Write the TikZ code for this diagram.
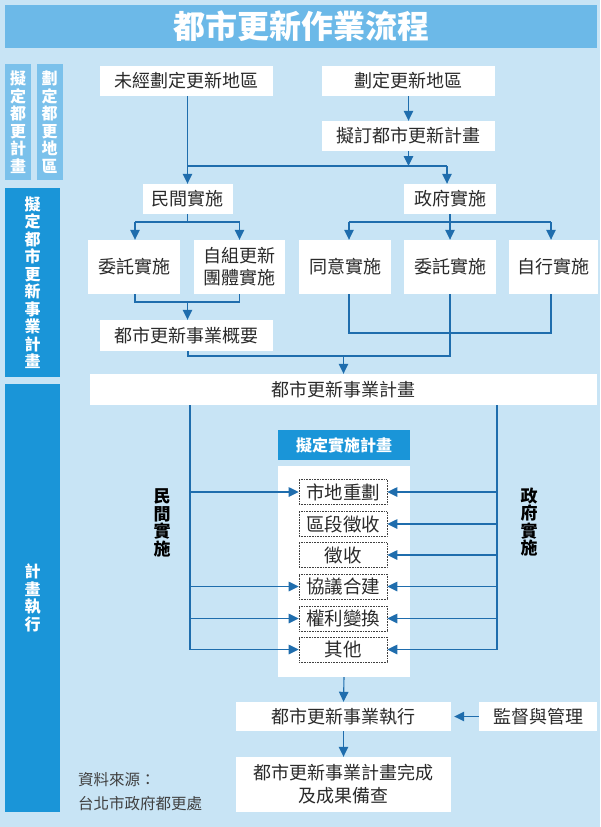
\documentclass[tikz,border=0pt]{standalone}
\usepackage{fontspec}
\setmainfont{Noto Sans CJK TC}
\usetikzlibrary{arrows.meta}
\definecolor{bg}{HTML}{C8E4F5}
\definecolor{titlec}{HTML}{6CB9E8}
\definecolor{lab}{HTML}{7BC1EB}
\definecolor{dk}{HTML}{1A95D8}
\definecolor{lc}{HTML}{1F6DAD}
\definecolor{txt}{HTML}{2A2A2A}
\tikzset{
  wbox/.style={fill=white, inner sep=0pt, text=txt, align=center, font=\fontsize{18}{22}\selectfont},
  dbox/.style={draw=black!75, dash pattern=on 0.8pt off 0.8pt, line width=0.6pt, inner sep=0pt, text=txt,
     minimum width=88pt, minimum height=25pt, font=\fontsize{18.5}{22}\selectfont},
  vlab/.style={inner sep=0pt, align=center, text=white, font=\bfseries\fontsize{16}{17.5}\selectfont},
  conn/.style={draw=lc, line width=1.1pt},
  arr/.style={conn, -{Triangle[length=10pt,width=9.5pt]}},
}
\begin{document}
\begin{tikzpicture}[x=1pt,y=-1pt]
\path[fill=bg] (0,0) rectangle (600,827);
\useasboundingbox (0,0) rectangle (600,827);
% title
\node[fill=titlec, minimum width=592pt, minimum height=43pt, inner sep=0pt, text=white,
  font=\bfseries\fontsize{32}{34}\selectfont] (title) at (301,26.5) {都市更新作業流程};
% left labels
\node[vlab, fill=lab, minimum width=26pt, minimum height=116pt] (L1) at (18,122) {擬\\定\\都\\更\\計\\畫};
\node[vlab, fill=lab, minimum width=26pt, minimum height=116pt] (L2) at (49.5,122) {劃\\定\\都\\更\\地\\區};
\node[vlab, fill=dk, minimum width=55pt, minimum height=189pt] (L3) at (32.5,282.5) {擬\\定\\都\\市\\更\\新\\事\\業\\計\\畫};
\node[vlab, fill=dk, minimum width=55pt, minimum height=428pt] (L4) at (32.5,598) {計\\畫\\執\\行};
% top nodes
\node[wbox, minimum width=173pt, minimum height=30pt] (n1) at (186.5,81) {未經劃定更新地區};
\node[wbox, minimum width=173pt, minimum height=30pt] (n2) at (408.5,81) {劃定更新地區};
\node[wbox, minimum width=173pt, minimum height=30pt] (n3) at (408.5,136) {擬訂都市更新計畫};
\node[wbox, minimum width=90pt, minimum height=30pt] (pm) at (187.5,199) {民間實施};
\node[wbox, minimum width=92pt, minimum height=30pt] (gv) at (450,199) {政府實施};
\node[wbox, minimum width=92pt, minimum height=54pt] (a1) at (134,267) {委託實施};
\node[wbox, minimum width=91pt, minimum height=54pt] (a2) at (239.5,267) {自組更新\\團體實施};
\node[wbox, minimum width=92pt, minimum height=54pt] (g1) at (345,267) {同意實施};
\node[wbox, minimum width=92pt, minimum height=54pt] (g2) at (450,267) {委託實施};
\node[wbox, minimum width=89pt, minimum height=54pt] (g3) at (553.5,267) {自行實施};
\node[wbox, minimum width=173pt, minimum height=31pt] (sm) at (186.5,335.5) {都市更新事業概要};
\node[wbox, minimum width=507pt, minimum height=31pt] (plan) at (343.5,389.5) {都市更新事業計畫};
% panel
\node[fill=dk, minimum width=132pt, minimum height=30pt, inner sep=0pt, text=white,
  font=\bfseries\fontsize{16}{18}\selectfont] (hdr) at (344,445) {擬定實施計畫};
\node[fill=white, minimum width=132pt, minimum height=211pt, inner sep=0pt] (panel) at (344,571.5) {};
\node[dbox] (r1) at (343,492) {市地重劃};
\node[dbox] (r2) at (343,524) {區段徵收};
\node[dbox] (r3) at (343,555) {徵收};
\node[dbox] (r4) at (343,586.5) {協議合建};
\node[dbox] (r5) at (343,618.5) {權利變換};
\node[dbox] (r6) at (343,649.5) {其他};
\node[inner sep=0pt, align=center, text=black, font=\bfseries\fontsize{17}{17.5}\selectfont] (lp) at (162,523) {民\\間\\實\\施};
\node[inner sep=0pt, align=center, text=black, font=\bfseries\fontsize{17}{17.5}\selectfont] (lg) at (529,522) {政\\府\\實\\施};
% bottom
\node[wbox, minimum width=215pt, minimum height=29pt] (exec) at (343.5,716.5) {都市更新事業執行};
\node[wbox, minimum width=118pt, minimum height=29pt] (sup) at (538,716.5) {監督與管理};
\node[wbox, minimum width=215pt, minimum height=55pt, font=\fontsize{18}{23}\selectfont] (fin) at (343.5,784.5) {都市更新事業計畫完成\\及成果備查};
\node[anchor=west, inner sep=0pt, text=black!75, font=\fontsize{15.5}{18}\selectfont] (src1) at (78,780) {資料來源：};
\node[anchor=west, inner sep=0pt, text=black!75, font=\fontsize{15.5}{18}\selectfont] (src2) at (78,804) {台北市政府都更處};
% coordinates
\coordinate (j1) at (0,166);
\coordinate (j2) at (0,222);
\coordinate (j3) at (0,302);
\coordinate (j4) at (0,333);
\coordinate (j5) at (0,356);
\coordinate (Lb) at (190,650);
\coordinate (Rb) at (497,650);
% connectors
\draw[arr] (pm.north |- n1.south) -- (pm.north);
\draw[arr] (n2) -- (n3);
\draw[arr] (n3.south) -- (n3.south |- j1);
\draw[conn] (pm.north |- j1) -- ([xshift=-3pt]gv.north |- j1);
\draw[arr] ([xshift=-3pt]gv.north |- j1) -- ([xshift=-3pt]gv.north);
\draw[conn] (pm.south) -- (pm.south |- j2);
\draw[conn] ([xshift=1pt]a1.north |- j2) -- (a2.north |- j2);
\draw[arr] ([xshift=1pt]a1.north |- j2) -- ([xshift=1pt]a1.north);
\draw[arr] (a2.north |- j2) -- (a2.north);
\draw[conn] (gv.south) -- (gv.south |- j2);
\draw[conn] ([xshift=4pt]g1.north |- j2) -- ([xshift=-2.5pt]g3.north |- j2);
\draw[arr] ([xshift=4pt]g1.north |- j2) -- ([xshift=4pt]g1.north);
\draw[arr] (g2.north |- j2) -- (g2.north);
\draw[arr] ([xshift=-2.5pt]g3.north |- j2) -- ([xshift=-2.5pt]g3.north);
\draw[conn] ([xshift=1pt]a1.south) -- ([xshift=1pt]a1.south |- j3) -- (a2.south |- j3) -- (a2.south);
\draw[arr] ([xshift=1pt]sm.north |- j3) -- ([xshift=1pt]sm.north);
\draw[conn] ([xshift=4pt]g1.south) -- ([xshift=4pt]g1.south |- j4) -- ([xshift=-2.5pt]g3.south |- j4) -- ([xshift=-2.5pt]g3.south);
\draw[conn] ([xshift=1.5pt]sm.south) -- ([xshift=1.5pt]sm.south |- j5) -- (g2.south |- j5) -- (g2.south);
\draw[arr] (plan.north |- j5) -- (plan.north);
\draw[conn] (plan.south -| Lb) -- (Lb);
\draw[conn] (plan.south -| Rb) -- (Rb);
\draw[arr] (Lb |- r1.west) -- (r1.west);
\draw[arr] (Lb |- r4.west) -- (r4.west);
\draw[arr] (Lb |- r5.west) -- (r5.west);
\draw[arr] (Lb |- r6.west) -- (r6.west);
\draw[arr] (Rb |- r1.east) -- (r1.east);
\draw[arr] (Rb |- r2.east) -- (r2.east);
\draw[arr] (Rb |- r3.east) -- (r3.east);
\draw[arr] (Rb |- r4.east) -- (r4.east);
\draw[arr] (Rb |- r5.east) -- (r5.east);
\draw[arr] (Rb |- r6.east) -- (r6.east);
\draw[arr] (panel.south) -- (exec.north);
\draw[arr] (sup.west) -- ([xshift=3pt]exec.east);
\draw[arr] (exec.south) -- (fin.north);
\end{tikzpicture}
\end{document}
